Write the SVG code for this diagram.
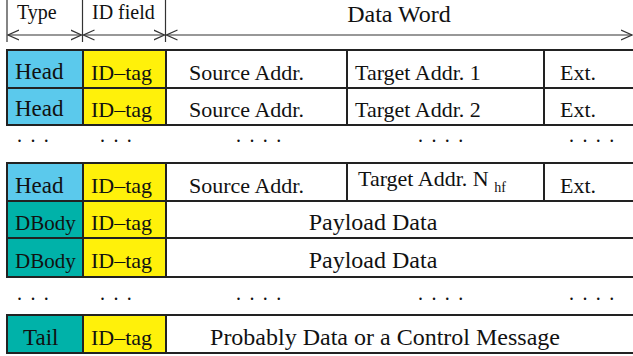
<svg xmlns="http://www.w3.org/2000/svg" width="633" height="356" viewBox="0 0 633 356">
  <defs>
    <marker id="chev" viewBox="0 0 12 12" refX="11" refY="6" markerWidth="12" markerHeight="12" markerUnits="userSpaceOnUse" orient="auto-start-reverse">
      <path d="M0,1 L11,6 L0,11" fill="none" stroke="#333" stroke-width="1.2"/>
    </marker>
    <style>
      text { font-family: "Liberation Serif", "Times New Roman", serif; fill: #111; }
      .hdr { font-size: 20px; }
      .title { font-size: 24px; }
      .cell { font-size: 22px; }
      .big { font-size: 23px; }
      .wide { font-size: 24px; }
      .kind { font-size: 21px; }
      .dots { font-size: 20px; letter-spacing: 1.7px; }
      .grid { stroke: #222; stroke-width: 2; fill: none; }
      .tick { stroke: #333; stroke-width: 1.2; }
      .dim { stroke: #333; stroke-width: 1.2; fill: none; marker-start: url(#chev); marker-end: url(#chev); }
      .head { fill: #5bc9ec; }
      .body { fill: #00b2a9; }
      .idtag { fill: #fff10a; }
    </style>
  </defs>

  <rect width="633" height="356" fill="#fff"/>

  <!-- field width scale -->
  <g id="scale">
    <line class="tick" x1="7" y1="0" x2="7" y2="42"/>
    <line class="tick" x1="82.5" y1="0" x2="82.5" y2="42"/>
    <line class="tick" x1="165.5" y1="0" x2="165.5" y2="42"/>
    <text class="hdr" x="17" y="19">Type</text>
    <text class="hdr" x="92" y="19">ID field</text>
    <text class="title" x="399" y="22" text-anchor="middle">Data Word</text>
  </g>

  <g id="connectors">
    <line class="dim" x1="8" y1="35" x2="81.5" y2="35"/>
    <line class="dim" x1="83.5" y1="35" x2="164.5" y2="35"/>
    <line class="dim" x1="166.5" y1="35" x2="632" y2="35"/>
  </g>

  <!-- header flit 1 -->
  <g id="head1">
    <rect class="head" x="7" y="50" width="76" height="38"/>
    <rect class="idtag" x="83" y="50" width="83" height="38"/>
    <rect class="grid" x="7" y="50" width="640" height="38"/>
    <line class="grid" x1="83" y1="50" x2="83" y2="88"/>
    <line class="grid" x1="166" y1="50" x2="166" y2="88"/>
    <line class="grid" x1="347" y1="50" x2="347" y2="88"/>
    <line class="grid" x1="544" y1="50" x2="544" y2="88"/>
    <text class="big" x="15" y="79">Head</text>
    <text class="cell" x="91" y="80">ID–tag</text>
    <text class="cell" x="189" y="80">Source Addr.</text>
    <text class="cell" x="355" y="80">Target Addr. 1</text>
    <text class="cell" x="560" y="80">Ext.</text>
  </g>

  <!-- header flit 2 -->
  <g id="head2">
    <rect class="head" x="7" y="88" width="76" height="37"/>
    <rect class="idtag" x="83" y="88" width="83" height="37"/>
    <rect class="grid" x="7" y="88" width="640" height="37"/>
    <line class="grid" x1="83" y1="88" x2="83" y2="125"/>
    <line class="grid" x1="166" y1="88" x2="166" y2="125"/>
    <line class="grid" x1="347" y1="88" x2="347" y2="125"/>
    <line class="grid" x1="544" y1="88" x2="544" y2="125"/>
    <text class="big" x="15" y="116">Head</text>
    <text class="cell" x="91" y="117">ID–tag</text>
    <text class="cell" x="189" y="117">Source Addr.</text>
    <text class="cell" x="355" y="117">Target Addr. 2</text>
    <text class="cell" x="560" y="117">Ext.</text>
  </g>

  <g id="gap1">
    <text class="dots" x="17" y="142">. . .</text>
    <text class="dots" x="100" y="142">. . .</text>
    <text class="dots" x="236" y="142">. . . .</text>
    <text class="dots" x="418" y="142">. . . .</text>
    <text class="dots" x="569" y="142">. . . .</text>
  </g>

  <!-- last header flit -->
  <g id="headN">
    <rect class="head" x="7" y="163" width="76" height="38"/>
    <rect class="idtag" x="83" y="163" width="83" height="38"/>
    <rect class="grid" x="7" y="163" width="640" height="38"/>
    <line class="grid" x1="83" y1="163" x2="83" y2="201"/>
    <line class="grid" x1="166" y1="163" x2="166" y2="201"/>
    <line class="grid" x1="347" y1="163" x2="347" y2="201"/>
    <line class="grid" x1="544" y1="163" x2="544" y2="201"/>
    <text class="big" x="15" y="193">Head</text>
    <text class="cell" x="91" y="193">ID–tag</text>
    <text class="cell" x="189" y="193">Source Addr.</text>
    <text class="cell" x="358" y="186">Target Addr. N <tspan font-size="14" dy="6">hf</tspan></text>
    <text class="cell" x="560" y="193">Ext.</text>
  </g>

  <!-- body flits -->
  <g id="body1">
    <rect class="body" x="7" y="201" width="76" height="37"/>
    <rect class="idtag" x="83" y="201" width="83" height="37"/>
    <rect class="grid" x="7" y="201" width="640" height="37"/>
    <line class="grid" x1="83" y1="201" x2="83" y2="238"/>
    <line class="grid" x1="166" y1="201" x2="166" y2="238"/>
    <text class="kind" x="15" y="230">DBody</text>
    <text class="cell" x="91" y="230">ID–tag</text>
    <text class="wide" x="373" y="230" text-anchor="middle">Payload Data</text>
  </g>

  <g id="body2">
    <rect class="body" x="7" y="238" width="76" height="39"/>
    <rect class="idtag" x="83" y="238" width="83" height="39"/>
    <rect class="grid" x="7" y="238" width="640" height="39"/>
    <line class="grid" x1="83" y1="238" x2="83" y2="277"/>
    <line class="grid" x1="166" y1="238" x2="166" y2="277"/>
    <text class="kind" x="15" y="268">DBody</text>
    <text class="cell" x="91" y="268">ID–tag</text>
    <text class="wide" x="373" y="268" text-anchor="middle">Payload Data</text>
  </g>

  <g id="gap2">
    <text class="dots" x="17" y="300">. . .</text>
    <text class="dots" x="100" y="300">. . .</text>
    <text class="dots" x="236" y="300">. . . .</text>
    <text class="dots" x="418" y="300">. . . .</text>
    <text class="dots" x="569" y="300">. . . .</text>
  </g>

  <!-- tail flit -->
  <g id="tail">
    <rect class="body" x="7" y="315" width="76" height="38"/>
    <rect class="idtag" x="83" y="315" width="83" height="38"/>
    <rect class="grid" x="7" y="315" width="640" height="38"/>
    <line class="grid" x1="83" y1="315" x2="83" y2="353"/>
    <line class="grid" x1="166" y1="315" x2="166" y2="353"/>
    <text class="big" x="23" y="345">Tail</text>
    <text class="cell" x="91" y="345">ID–tag</text>
    <text class="wide" x="385" y="345" text-anchor="middle">Probably Data or a Control Message</text>
  </g>
</svg>
